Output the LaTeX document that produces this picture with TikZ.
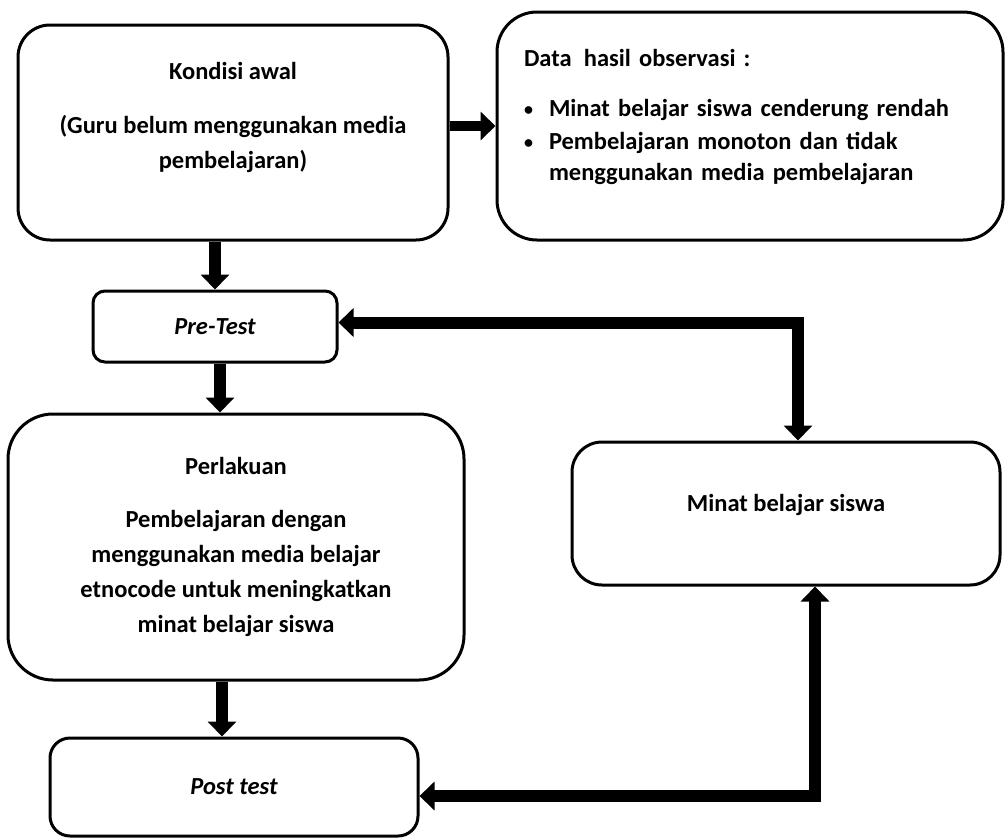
\documentclass[tikz,border=0pt]{standalone}
\usepackage{fontspec}
\setmainfont{Carlito}
\usetikzlibrary{arrows.meta}

\newcommand{\itembul}{\makebox[25pt][l]{\raisebox{1.5pt}{\fontsize{18}{18}\selectfont\textbullet}}}

\begin{document}
\begin{tikzpicture}[x=1pt,y=-1pt,
  box/.style={draw,line width=3pt,align=center,font=\bfseries\fontsize{24.5}{35}\selectfont},
  fat/.style={line width=12pt,-{Triangle[width=28pt,length=15pt]}},
  both/.style={line width=12pt,{Triangle[width=28pt,length=15pt]}-{Triangle[width=28pt,length=15pt]}}]
\useasboundingbox (0,0) rectangle (1006,839);
\node[box,rounded corners=32pt,minimum width=430pt,minimum height=215pt,text depth=34pt] (awal) at (233,132.5)
  {Kondisi awal\\[19pt](Guru belum menggunakan media\\pembelajaran)};
\node[box,rounded corners=40pt,minimum width=506pt,minimum height=228pt,text width=452pt,align=left,
  font=\bfseries\fontsize{24.5}{31}\selectfont,text depth=136pt] (data) at (750,126)
  {Data\enspace hasil observasi :\\[19pt]
   \itembul Minat belajar siswa cenderung rendah\\[2pt]
   \itembul Pembelajaran monoton dan tidak\\
   \makebox[25pt]{}menggunakan media pembelajaran};
\node[box,rounded corners=12pt,minimum width=244pt,minimum height=71pt,
  font=\bfseries\itshape\fontsize{24.5}{35}\selectfont] (pre) at (215,326.5) {Pre-Test};
\node[box,rounded corners=45pt,minimum width=456pt,minimum height=266pt] (perl) at (236,547)
  {Perlakuan\\[18pt]Pembelajaran dengan\\menggunakan media belajar\\etnocode untuk meningkatkan\\minat belajar siswa};
\node[box,rounded corners=30pt,minimum width=428pt,minimum height=143pt,text depth=22pt] (minat) at (786,513.5)
  {Minat belajar siswa};
\node[box,rounded corners=20pt,minimum width=368pt,minimum height=98pt,
  font=\bfseries\itshape\fontsize{24.5}{35}\selectfont] (post) at (234,787) {Post test};

\draw[fat,line width=10pt] (awal.east |- data.west) -- (data.west);
\draw[fat] (pre.north |- awal.south) -- (pre.north);
\draw[fat] ([xshift=5pt]pre.south) -- ([xshift=5pt]pre.south |- perl.north);
\draw[fat] ([xshift=-12pt]post.north |- perl.south) -- ([xshift=-12pt]post.north);
\draw[both] ([yshift=4pt]pre.east) -| ([xshift=12pt]minat.north);
\draw[both] ([yshift=-9pt]post.east) -| ([xshift=29pt]minat.south);
\end{tikzpicture}
\end{document}
